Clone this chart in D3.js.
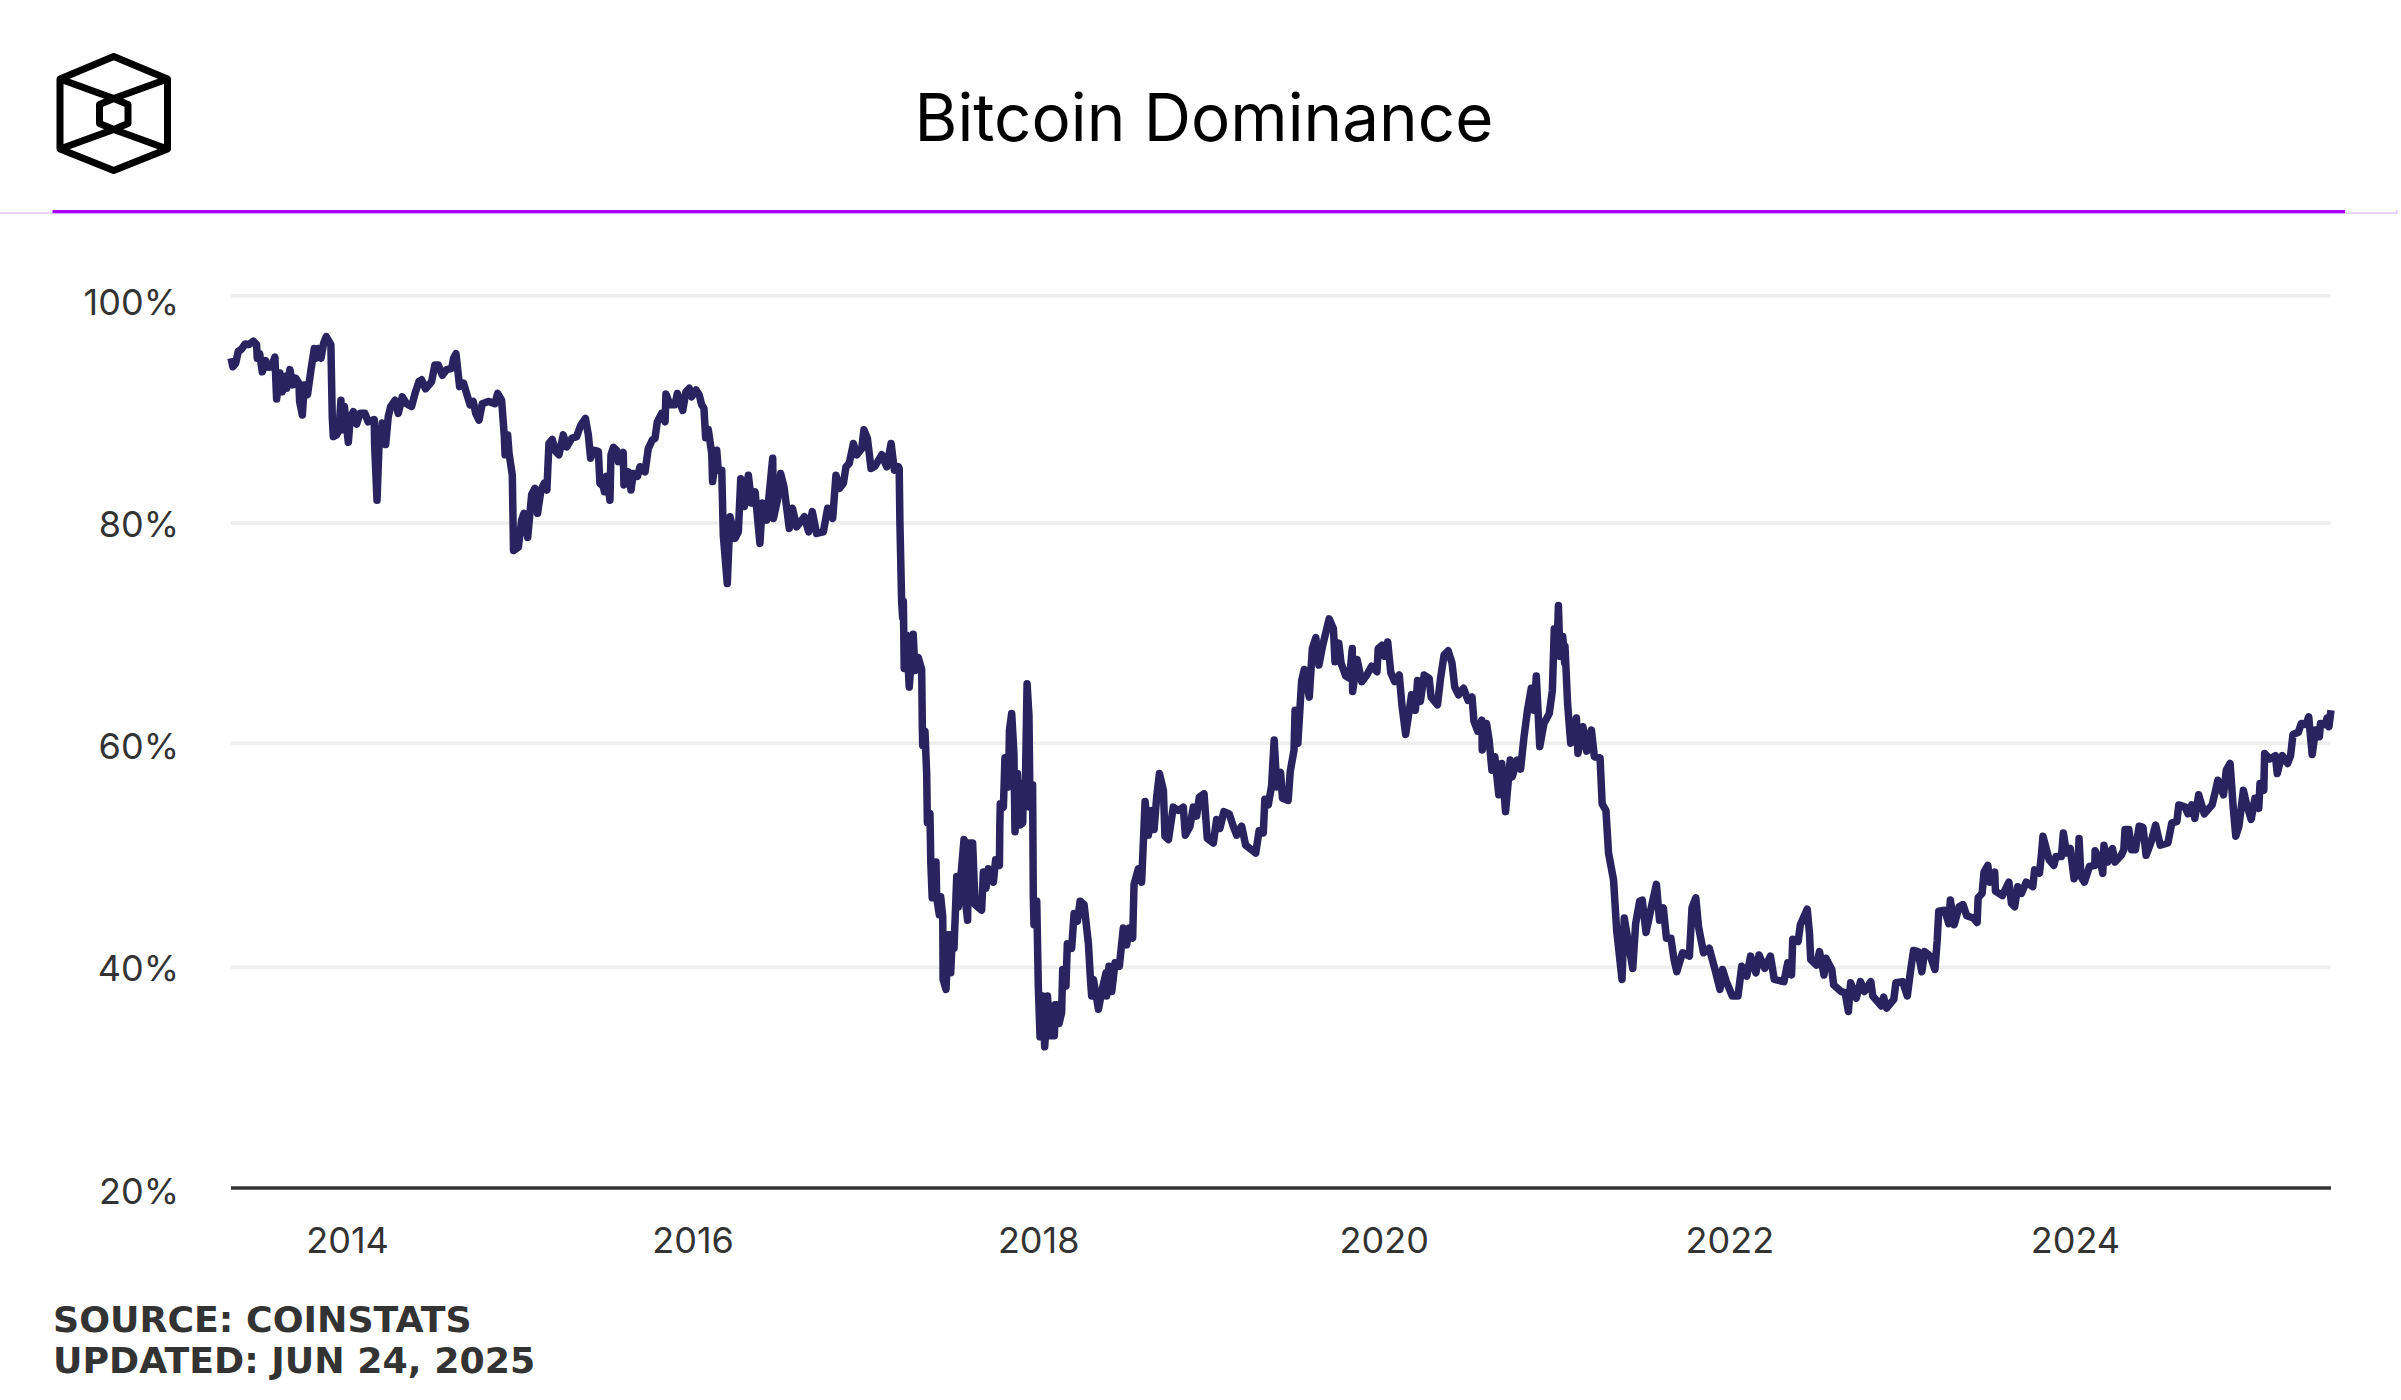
<!DOCTYPE html>
<html>
<head>
<meta charset="utf-8">
<title>Bitcoin Dominance</title>
<script src="https://cdn.jsdelivr.net/npm/d3@7"></script>
<style>
  html, body { margin: 0; padding: 0; background: #fff; }
  svg { display: block; }
</style>
</head>
<body>
<div id="chart"></div>
<script>
/* values: decimal year and dominance in percent */
const years = [
  2013.32,2013.331,2013.347,2013.362,2013.381,2013.401,2013.424,2013.449,2013.468,2013.472,2013.486,2013.501,2013.52,2013.536,2013.555,2013.574,2013.584,2013.603,2013.617,2013.636,2013.642,2013.661,2013.677,2013.694,2013.713,2013.717,2013.733,2013.744,2013.763,2013.783,2013.802,2013.814,2013.825,2013.841,2013.856,2013.871,2013.898,2013.906,2013.912,2013.931,2013.945,2013.956,2013.966,2013.976,2013.999,
  2014.01,2014.028,2014.047,2014.066,2014.095,2014.114,2014.149,2014.151,2014.165,2014.176,2014.195,2014.215,2014.23,2014.244,2014.269,2014.288,2014.311,2014.336,2014.365,2014.385,2014.408,2014.423,2014.446,2014.481,2014.5,2014.52,2014.543,2014.568,2014.597,2014.608,2014.622,2014.643,2014.666,2014.703,2014.722,2014.736,2014.755,2014.774,2014.809,2014.847,2014.863,2014.886,2014.902,2014.906,2014.921,2014.929,2014.948,2014.955,2014.983,
  2015.002,2015.015,2015.037,2015.06,2015.079,2015.094,2015.114,2015.133,2015.148,2015.16,2015.179,2015.199,2015.218,2015.243,2015.263,2015.292,2015.32,2015.344,2015.371,2015.388,2015.401,2015.417,2015.446,2015.455,2015.475,2015.481,2015.494,2015.513,2015.519,2015.533,2015.552,2015.562,2015.59,2015.594,2015.619,2015.635,2015.648,2015.672,2015.687,2015.716,2015.735,2015.758,2015.774,2015.787,2015.812,2015.832,2015.837,2015.861,2015.889,2015.903,2015.934,2015.953,2015.972,2015.986,
  2016.011,2016.03,2016.044,2016.057,2016.067,2016.082,2016.102,2016.107,2016.131,2016.14,2016.16,2016.169,2016.192,2016.208,2016.237,2016.256,2016.27,2016.291,2016.314,2016.333,2016.353,2016.381,2016.395,2016.42,2016.455,2016.459,2016.482,2016.501,2016.52,2016.551,2016.569,2016.594,2016.638,2016.663,2016.684,2016.709,2016.748,2016.773,2016.802,2016.821,2016.841,2016.864,2016.879,2016.898,2016.922,2016.941,2016.97,2016.983,
  2017.003,2017.024,2017.047,2017.086,2017.115,2017.14,2017.159,2017.182,2017.187,2017.191,2017.201,2017.207,2017.211,2017.216,2017.23,2017.245,2017.268,2017.278,2017.297,2017.317,2017.321,2017.323,2017.336,2017.346,2017.35,2017.365,2017.37,2017.378,2017.40,2017.404,2017.419,2017.427,2017.439,2017.441,2017.458,2017.471,2017.485,2017.495,2017.504,2017.52,2017.529,2017.562,2017.574,2017.583,2017.587,2017.612,2017.626,2017.664,2017.674,2017.689,2017.703,2017.732,2017.745,2017.767,2017.769,2017.772,2017.79,2017.799,2017.819,2017.825,2017.838,2017.851,2017.857,2017.871,2017.886,2017.902,2017.905,2017.915,2017.927,2017.938,2017.944,2017.959,2017.963,2017.967,2017.983,2017.992,
  2018.002,2018.017,2018.029,2018.045,2018.06,2018.085,2018.089,2018.098,2018.112,2018.127,2018.133,2018.152,2018.16,2018.185,2018.199,2018.218,2018.234,2018.257,2018.282,2018.295,2018.301,2018.311,2018.34,2018.359,2018.384,2018.387,2018.401,2018.417,2018.436,2018.461,2018.484,2018.503,2018.519,2018.538,2018.546,2018.571,2018.59,2018.61,2018.629,2018.649,2018.662,2018.677,2018.693,2018.716,2018.725,2018.745,2018.773,2018.802,2018.831,2018.843,2018.87,2018.889,2018.908,2018.924,2018.951,2018.97,
  2019.005,2019.024,2019.043,2019.066,2019.097,2019.12,2019.14,2019.169,2019.192,2019.226,2019.25,2019.27,2019.294,2019.303,2019.323,2019.342,2019.357,2019.372,2019.394,2019.405,2019.438,2019.45,2019.472,2019.478,2019.494,2019.516,2019.531,2019.56,2019.578,2019.598,2019.616,2019.638,2019.675,2019.7,2019.709,2019.731,2019.744,2019.771,2019.793,2019.809,2019.811,2019.837,2019.864,2019.893,2019.921,2019.952,2019.959,2019.981,2019.997,
  2020.014,2020.032,2020.054,2020.081,2020.096,2020.118,2020.136,2020.152,2020.174,2020.187,2020.203,2020.225,2020.254,2020.265,2020.302,2020.32,2020.34,2020.364,2020.386,2020.402,2020.424,2020.453,2020.479,2020.502,2020.513,2020.535,2020.559,2020.561,2020.586,2020.601,2020.617,2020.634,2020.657,2020.674,2020.696,2020.723,2020.734,2020.763,2020.783,2020.803,2020.823,2020.845,2020.86,2020.874,2020.894,2020.918,2020.949,2020.967,2020.978,2020.993,
  2021.002,2021.011,2021.027,2021.038,2021.04,2021.055,2021.073,2021.106,2021.115,2021.144,2021.166,2021.193,2021.21,2021.243,2021.255,2021.277,2021.292,2021.321,2021.339,2021.37,2021.383,2021.432,2021.449,2021.472,2021.487,2021.509,2021.543,2021.569,2021.587,2021.609,2021.627,2021.653,2021.671,2021.687,2021.72,2021.76,2021.775,2021.797,2021.813,2021.842,2021.875,2021.908,2021.937,2021.952,2021.974,
  2022.008,2022.041,2022.063,2022.092,2022.114,2022.145,2022.163,2022.196,2022.229,2022.251,2022.307,2022.329,2022.351,2022.358,2022.389,2022.402,2022.442,2022.455,2022.462,2022.495,2022.513,2022.539,2022.55,2022.584,2022.595,2022.639,2022.661,2022.68,2022.693,2022.726,2022.75,2022.773,2022.81,2022.821,2022.87,2022.884,2022.901,2022.943,2022.955,2022.994,
  2023.021,2023.039,2023.057,2023.083,2023.105,2023.121,2023.154,2023.181,2023.194,2023.203,2023.238,2023.261,2023.27,2023.292,2023.321,2023.343,2023.365,2023.403,2023.425,2023.431,2023.454,2023.465,2023.487,2023.498,2023.527,2023.531,2023.571,2023.609,2023.624,2023.642,2023.66,2023.682,2023.709,2023.747,2023.758,2023.786,2023.798,2023.806,2023.842,2023.869,2023.882,2023.913,2023.924,2023.942,2023.964,2023.986,
  2024.008,2024.015,2024.026,2024.046,2024.075,2024.106,2024.108,2024.141,2024.152,2024.159,2024.181,2024.208,2024.223,2024.259,2024.274,2024.281,2024.303,2024.319,2024.341,2024.363,2024.385,2024.403,2024.43,2024.458,2024.485,2024.529,2024.552,2024.581,2024.592,2024.629,2024.645,2024.667,2024.685,2024.707,2024.74,2024.785,2024.802,2024.818,2024.851,2024.867,2024.889,2024.907,2024.922,2024.94,2024.966,2024.984,
  2025.011,2025.033,2025.055,2025.062,2025.084,2025.089,2025.118,2025.151,2025.162,2025.173,2025.191,2025.222,2025.239,2025.253,2025.284,2025.301,2025.328,2025.344,2025.364,2025.384,2025.406,2025.412,2025.44,2025.45,2025.461,2025.473
];
const dominance = [
  94.5,93.75,94.05,95.1,95.3,95.75,95.7,96,95.7,94.5,94.9,93.3,94.3,93.7,93.75,94.6,90.9,93.2,91.55,92.9,91.85,93.5,92.15,92.75,92.3,90.7,89.5,92.15,91.3,93.5,95.35,94.5,95.35,94.5,95.8,96.4,95.7,89.35,87.6,87.75,88.2,90.8,88.2,90.25,87.1,
  89.2,89.8,88.7,89.65,89.65,88.9,89.1,86.9,82,86.6,88.8,86.9,89.35,90.25,90.8,89.65,91.1,90.5,90.25,91.4,92.45,92.6,91.8,92.45,93.9,93.9,93,93.5,93.6,94.5,94.9,92,92.3,90.4,90.7,89.65,89.05,90.5,90.7,90.5,91.4,90.8,87.6,86,87.75,86.15,84.2,77.5,77.8,
  80.25,80.85,78.7,82.5,83.05,80.85,82.9,83.5,82.9,87,87.35,86.3,86,87.75,86.7,87.45,87.6,88.6,89.2,87.75,85.7,86.4,86.3,83.5,83.2,82.75,84.1,82,86,86.65,86.4,85.4,86.2,83.35,84.5,82.9,84.35,84.1,84.95,84.5,86.55,87.3,87.45,88.9,89.65,88.9,91.35,90.4,90.4,91.4,89.9,91.55,91.85,91.1,
  91.7,91.25,90.4,90.1,87.5,88.25,86.1,83.65,86.4,84.65,84.65,78.9,74.5,80.55,78.6,79.2,83.9,81.45,84.2,81.75,82.75,78.15,81.75,80.25,85.7,80.4,82,84.35,83.2,79.5,81.3,79.65,80.55,79.2,81,79.05,79.2,81.3,80.4,84.2,83.05,83.5,84.95,85.25,87,86,86.55,88.2,
  87.45,84.8,85,86,84.95,87,84.65,84.95,84.8,80.1,72.9,71.4,72.9,66.8,69.8,65.1,69.9,66.6,67.8,66.7,61.3,59.8,61.1,57.3,52.9,53.75,49.3,46.2,49.4,46.2,44.7,46.3,44.5,38.9,38,42.9,39.5,42.9,41.7,48.1,45.4,51.4,45.4,44.2,51.1,51.1,45.6,45.1,48.5,47.05,48.8,47.6,49.6,49.1,52.4,54.6,54.3,58.7,56.1,61.2,62.7,59.1,52.1,57.3,52.7,52.9,56.4,54.3,65.4,62.5,54.3,56.3,46.3,43.8,45.9,38.3,
  33.7,37.4,32.8,37.4,33.8,33.8,36.6,36.6,34.9,35.9,39.8,38.3,42.1,41.7,44.8,44.1,45.9,45.6,42.1,38.6,37.4,38.9,36.2,37.8,39.5,37.4,40.1,37.8,40.4,40.1,43.5,42,43.5,42.6,47.4,48.8,47.6,54.8,51.8,54,52.3,55.2,57.3,55.8,51.7,51.4,54.3,54,54.3,51.8,52.6,54.3,53.5,55.2,55.5,51.5,
  51.1,53.2,52.4,53.9,53.7,52.6,51.8,52.6,50.9,50.5,50.2,52.2,52,55,54.5,56.2,60.3,56.1,57.4,55.1,54.9,57.5,59.4,63,60,65.7,66.7,64.2,68.6,69.6,67.1,68.9,71.3,70.4,67.4,69.1,67.3,66.1,65.9,68.6,64.7,67.6,65.6,66.2,67,66.5,68.6,68.9,67.9,
  69.2,66.4,65.6,66.2,63.5,60.8,62.7,64.4,63,65.7,63.8,66.2,65.9,64.2,63.5,65.9,68,68.4,67.3,65.1,64.4,65,63.9,64.2,62,61.1,62.1,59.4,61.8,60.3,57.6,58.8,55.4,58.2,53.9,58.5,57,58.5,57.7,60.6,63,65,63,66.1,59.7,61.8,62.7,64.8,70.4,68.2,
  72.5,67.9,69.7,67.3,68.8,63.6,60,62.3,59.1,61.5,59.3,61.2,58.8,58.7,54.6,54,50.2,47.8,43.3,38.9,44.4,39.9,43.9,45.9,46,43.1,45.6,47.4,44.2,45.3,42.6,42.6,40.7,39.6,41.3,41,45.3,46.2,43.6,41.3,41.7,39.8,38,39.8,38.7,
  37.4,37.4,40.1,39.2,41,39.5,41.1,39.9,41,38.9,38.7,40.4,39.3,42.5,42.3,43.8,45.2,43,40.7,40.2,41.4,39.3,40.8,39.8,38.4,37.8,37.7,36,38.6,37.2,38.7,37.8,38.7,37.4,36.5,37.3,36.3,37.1,38.6,38.7,
  37.4,39.6,41.5,41.4,39.6,41.4,41,39.8,42.4,45,45.1,43.9,46,43.8,45.4,45.6,44.6,44.4,44,46.2,46.6,48.5,49.1,47.6,48.5,46.8,46.4,47.6,45.7,45.4,47.2,46.6,47.6,47.2,48.7,48.4,50.2,51.7,49.6,49.1,49.9,49.9,52,50.2,50.6,47.9,
  48.7,51.5,48.1,47.6,49,49.1,50.4,49.3,48.4,50.9,49.4,50.6,49.4,50,50.5,52.3,52.3,50.5,50.5,52.6,52.5,50,51.1,52.7,50.9,51.1,52.9,53,54.5,54.3,53.7,54.5,53.3,55.4,53.7,54.5,55.6,56.7,55.4,57.6,58.2,54.3,51.7,52.6,55.8,54.6,
  53.2,55.1,54.2,56.4,55.8,59.1,58.6,58.9,57.3,58,58.9,58.2,58.9,60.8,61,61.8,61.7,62.4,59,61.2,60.6,61.8,61.7,62.3,61.5,63
];
const yTicks = [20, 40, 60, 80, 100];
const xTicks = [2014, 2016, 2018, 2020, 2022, 2024];
const titleText = "Bitcoin Dominance";
const footerLines = ["SOURCE: COINSTATS", "UPDATED: JUN 24, 2025"];

const W = 2401, H = 1400;
const plot = { left: 231, right: 2331 };
const tickFont = "Inter, sans-serif";
const footFont = "'DejaVu Sans', sans-serif";
const ink = "#333333";

const svg = d3.select("#chart").append("svg")
  .attr("width", W).attr("height", H)
  .attr("viewBox", `0 0 ${W} ${H}`)
  .style("background", "#fff");

/* Scales: the gridlines of the original are not quite evenly spaced,
   and its labels sit on their own even spacing */
const x = d3.scaleLinear().domain([2013.32, 2025.473]).range([plot.left, plot.right]);
const y = d3.scaleLinear().domain(yTicks).range([1188, 967.3, 743.3, 523, 295.7]);
const yLabel = d3.scaleLinear().domain([20, 100]).range([1203, 314]);

/* Header */
const logo = svg.append("g")
  .attr("fill", "none").attr("stroke", "#000")
  .attr("stroke-width", 7).attr("stroke-linejoin", "round");
[
  "M113.7 56.5 L167.5 79 L167.5 149 L113.7 170.5 L60 149 L60 79 Z",
  "M60 79 L113.7 98.5 L167.5 79",
  "M60 149 L113.7 129.5 L167.5 149",
  "M113.7 98.5 L128 104.5 L128 123.5 L113.7 129.5 L99.5 123.5 L99.5 104.5 Z"
].forEach(d => logo.append("path").attr("d", d));

svg.append("text")
  .attr("x", 1204).attr("y", 141)
  .attr("text-anchor", "middle")
  .attr("fill", "#000")
  .style("font-family", "Inter, sans-serif")
  .style("font-size", "65.5px")
  .text(titleText);

svg.append("rect").attr("x", 0).attr("y", 212.3).attr("width", 2397).attr("height", 1.5).attr("fill", "#e2c6ff");
svg.append("rect").attr("x", 2396).attr("y", 210).attr("width", 1.5).attr("height", 3.5).attr("fill", "#e2c6ff");
svg.append("rect").attr("x", 52.5).attr("y", 210).attr("width", 2292.5).attr("height", 3.2).attr("fill", "#aa00ff");

/* Grid lines */
svg.append("g")
  .selectAll("line")
  .data(yTicks.filter(d => d > 20))
  .join("line")
    .attr("x1", plot.left).attr("x2", plot.right)
    .attr("y1", d => y(d)).attr("y2", d => y(d))
    .attr("stroke", "#eeeeee")
    .attr("stroke-width", 3.5);

/* Axes */
const gy = svg.append("g")
  .attr("transform", `translate(179,0)`)
  .call(d3.axisLeft(yLabel).tickValues(yTicks).tickSize(0).tickPadding(0).tickFormat(d => d + "%"));
gy.select(".domain").remove();
gy.selectAll("text")
  .attr("dy", 0)
  .attr("fill", ink)
  .style("font-family", tickFont)
  .style("font-size", "36px");

const gx = svg.append("g")
  .attr("transform", `translate(-1.5,1253)`)
  .call(d3.axisBottom(x).tickValues(xTicks).tickSize(0).tickPadding(0).tickFormat(d3.format("d")));
gx.select(".domain").remove();
gx.selectAll("text")
  .attr("y", 0).attr("dy", 0)
  .attr("fill", ink)
  .style("font-family", tickFont)
  .style("font-size", "36px");

svg.append("line")
  .attr("x1", plot.left).attr("x2", plot.right)
  .attr("y1", y(20)).attr("y2", y(20))
  .attr("stroke", ink)
  .attr("stroke-width", 3.5);

/* Dominance line */
const line = d3.line()
  .x((d, i) => x(years[i]))
  .y(d => y(d));

svg.append("path")
  .datum(dominance)
  .attr("fill", "none")
  .attr("stroke", "#2a235f")
  .attr("stroke-width", 7.5)
  .attr("stroke-linejoin", "round")
  .attr("d", line);

/* Footer */
svg.append("g").selectAll("text")
  .data(footerLines)
  .join("text")
    .attr("x", 53)
    .attr("y", (d, i) => 1332 + i * 41)
    .attr("fill", ink)
    .style("font-family", footFont)
    .style("font-weight", "700")
    .style("font-size", "36.3px")
    .text(d => d);
</script>
</body>
</html>
